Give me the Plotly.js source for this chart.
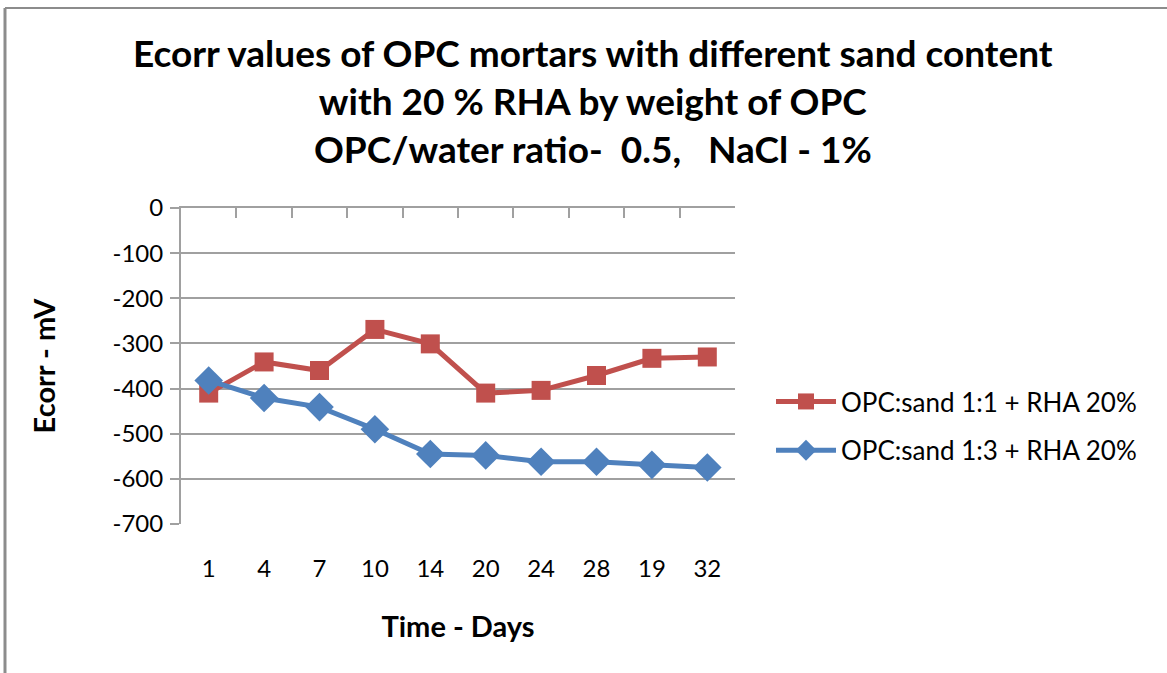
<!DOCTYPE html>
<html>
<head>
<meta charset="utf-8">
<script src="https://cdn.plot.ly/plotly-3.0.1.min.js"></script>
<style>
html,body{margin:0;padding:0;background:#fff;}
#chart{width:1167px;height:673px;}
</style>
</head>
<body>
<div id="chart"></div>
<script>
var days = ["1", "4", "7", "10", "14", "20", "24", "28", "19", "32"];
var sand11 = [-410, -341, -360, -269, -301, -410, -404, -371, -333, -330];
var sand13 = [-382, -421, -441, -490, -545, -548, -562, -562, -569, -575];
var name11 = "OPC:sand 1:1 + RHA 20%";
var name13 = "OPC:sand 1:3 + RHA 20%";
var yTicks = [0, -100, -200, -300, -400, -500, -600, -700];
var yTickText = yTicks.map(function (v) { return String(v); });

var FONT = "Lato, 'Open Sans', sans-serif";
var gridColor = "#a0a0a0";

var traces = [
  {
    x: days, y: sand11, name: name11, type: "scatter", mode: "lines+markers",
    legendgroup: "a",
    line: {color: "#C0504D", width: 5},
    marker: {symbol: "square", size: 19, color: "#C0504D"}
  },
  {
    x: days, y: sand13, name: name13, type: "scatter", mode: "lines+markers",
    legendgroup: "b",
    line: {color: "#4F81BD", width: 5},
    marker: {symbol: "diamond", size: 22, color: "#4F81BD"}
  },
  {
    x: [0, 10], y: [0, 0], xaxis: "x2", yaxis: "y", type: "scatter", mode: "none",
    showlegend: false, hoverinfo: "skip"
  }
];

var layout = {
  width: 1167, height: 673,
  paper_bgcolor: "#fff", plot_bgcolor: "#fff",
  margin: {l: 181, r: 432, t: 208, b: 149},
  font: {family: FONT, color: "#000", size: 24},
  title: {
    text: "<b>Ecorr values of OPC mortars with different sand content<br>with 20 % RHA by weight of OPC<br>OPC/water ratio-  0.5,   NaCl - 1%</b>",
    font: {family: FONT, size: 37, color: "#000"},
    x: 0.508, xref: "container", xanchor: "center",
    y: 0.9004, yref: "container", yanchor: "middle"
  },
  xaxis: {
    type: "category", range: [-0.5, 9.5],
    showline: false, showgrid: false, zeroline: false, ticks: "",
    tickfont: {size: 24, family: FONT, color: "#000"},
    ticklabelstandoff: 28,
    title: {text: "<b>Time - Days</b>", font: {size: 29, family: FONT, color: "#000"}, standoff: 35}
  },
  xaxis2: {
    overlaying: "x", side: "top", anchor: "y", range: [0, 10],
    tickvals: [1, 2, 3, 4, 5, 6, 7, 8, 9, 10],
    ticks: "inside", ticklen: 10, tickwidth: 2, tickcolor: gridColor,
    showline: true, linecolor: gridColor, linewidth: 2,
    showticklabels: false, showgrid: false, zeroline: false
  },
  yaxis: {
    range: [-700, 0], tickvals: yTicks, ticktext: yTickText,
    ticks: "outside", ticklen: 9, tickwidth: 2, tickcolor: gridColor,
    showline: true, linecolor: gridColor, linewidth: 2,
    showgrid: true, gridcolor: gridColor, gridwidth: 2, zeroline: false,
    tickfont: {size: 24, family: FONT, color: "#000"},
    ticklabelstandoff: 2,
    title: {text: "<b>Ecorr - mV</b>", font: {size: 29, family: FONT, color: "#000"}, standoff: 48}
  },
  legend: {
    x: 1.065, xanchor: "left", y: 0.31, yanchor: "middle",
    font: {size: 26, family: FONT, color: "#000"},
    traceorder: "grouped", tracegroupgap: 12, itemwidth: 60,
    bgcolor: "rgba(0,0,0,0)"
  },
  showlegend: true,
  shapes: [
    {type: "line", xref: "paper", yref: "paper", x0: -0.3177, x1: -0.3177, y0: -0.6, y1: 1.633,
     line: {color: "#8c8c8c", width: 3}},
    {type: "line", xref: "paper", yref: "paper", x0: -0.3177, x1: 1.9, y0: 1.633, y1: 1.633,
     line: {color: "#8c8c8c", width: 2}}
  ]
};

Plotly.newPlot("chart", traces, layout, {displayModeBar: false, staticPlot: true});
</script>
</body>
</html>
